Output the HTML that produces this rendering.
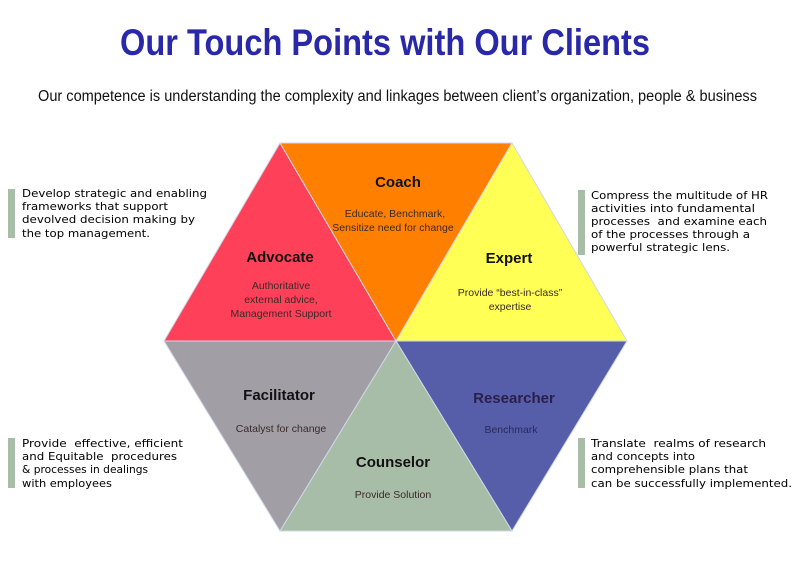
<!DOCTYPE html>
<html><head><meta charset="utf-8"><style>
html,body{margin:0;padding:0;background:#fff;width:800px;height:562px;overflow:hidden}
svg{display:block}
.s{font-family:"DejaVu Sans","Liberation Sans",sans-serif;font-size:11px;fill:#000;white-space:pre}
.h{font-family:"Liberation Sans",sans-serif;font-weight:bold;font-size:15px;fill:#111;text-anchor:middle}
.d{font-family:"Liberation Sans",sans-serif;font-size:10.5px;fill:#3a2a2a;text-anchor:middle}
</style></head><body>
<svg width="800" height="562" viewBox="0 0 800 562" xmlns="http://www.w3.org/2000/svg">
<text x="120" y="55" font-family="Liberation Sans,sans-serif" font-weight="bold" font-size="37" fill="#2828A8" textLength="530" lengthAdjust="spacingAndGlyphs">Our Touch Points with Our Clients</text>
<text x="38" y="101" font-family="Liberation Sans,sans-serif" font-size="15.5" fill="#111" textLength="719" lengthAdjust="spacingAndGlyphs">Our competence is understanding the complexity and linkages between client’s organization, people &amp; business</text>

<g stroke="#cfd8e8" stroke-width="1">
<polygon points="164,341 280,143 396,341" fill="#FF4059"/>
<polygon points="280,143 512,143 396,341" fill="#FF8000"/>
<polygon points="512,143 627,341 396,341" fill="#FFFF55"/>
<polygon points="396,341 627,341 512,531" fill="#565EAA"/>
<polygon points="164,341 396,341 280,531" fill="#A19FA5"/>
<polygon points="396,341 512,531 280,531" fill="#A8BDA8"/>
</g>

<text class="h" x="398" y="187">Coach</text>
<text class="d" x="395" y="217">Educate, Benchmark,</text>
<text class="d" x="393" y="231">Sensitize need for change</text>
<text class="h" x="280" y="262">Advocate</text>
<text class="d" x="281" y="289">Authoritative</text>
<text class="d" x="281" y="303">external advice,</text>
<text class="d" x="281" y="317">Management Support</text>
<text class="h" x="509" y="263">Expert</text>
<text class="d" x="510" y="296">Provide “best-in-class”</text>
<text class="d" x="510" y="310">expertise</text>
<text class="h" x="279" y="400">Facilitator</text>
<text class="d" x="281" y="432">Catalyst for change</text>
<text class="h" x="514" y="403" style="fill:#2a1f4a">Researcher</text>
<text class="d" x="511" y="433" style="fill:#2a2a5a">Benchmark</text>
<text class="h" x="393" y="467">Counselor</text>
<text class="d" x="393" y="498">Provide Solution</text>

<rect x="8" y="189" width="7" height="49" fill="#A8BDA8"/>
<text class="s" x="22" y="197" textLength="185" lengthAdjust="spacingAndGlyphs">Develop strategic and enabling</text>
<text class="s" x="22" y="210" textLength="146" lengthAdjust="spacingAndGlyphs">frameworks that support</text>
<text class="s" x="22" y="223" textLength="173" lengthAdjust="spacingAndGlyphs">devolved decision making by</text>
<text class="s" x="22" y="237" textLength="128" lengthAdjust="spacingAndGlyphs">the top management.</text>

<rect x="578" y="190" width="7" height="65" fill="#A8BDA8"/>
<text class="s" x="591" y="199" textLength="177" lengthAdjust="spacingAndGlyphs">Compress the multitude of HR</text>
<text class="s" x="591" y="212" textLength="164" lengthAdjust="spacingAndGlyphs">activities into fundamental</text>
<text class="s" x="591" y="225" textLength="176" lengthAdjust="spacingAndGlyphs">processes  and examine each</text>
<text class="s" x="591" y="238" textLength="159" lengthAdjust="spacingAndGlyphs">of the processes through a</text>
<text class="s" x="591" y="251" textLength="139" lengthAdjust="spacingAndGlyphs">powerful strategic lens.</text>

<rect x="8" y="438" width="7" height="50" fill="#A8BDA8"/>
<text class="s" x="22" y="447" textLength="161" lengthAdjust="spacingAndGlyphs">Provide  effective, efficient</text>
<text class="s" x="22" y="460" textLength="155" lengthAdjust="spacingAndGlyphs">and Equitable  procedures</text>
<text class="s" x="22" y="473" textLength="126" lengthAdjust="spacingAndGlyphs">&amp; processes in dealings</text>
<text class="s" x="22" y="487" textLength="90" lengthAdjust="spacingAndGlyphs">with employees</text>

<rect x="578" y="438" width="7" height="50" fill="#A8BDA8"/>
<text class="s" x="591" y="447" textLength="175" lengthAdjust="spacingAndGlyphs">Translate  realms of research</text>
<text class="s" x="591" y="460" textLength="104" lengthAdjust="spacingAndGlyphs">and concepts into</text>
<text class="s" x="591" y="473" textLength="157" lengthAdjust="spacingAndGlyphs">comprehensible plans that</text>
<text class="s" x="591" y="487" textLength="201" lengthAdjust="spacingAndGlyphs">can be successfully implemented.</text>
</svg>
</body></html>
